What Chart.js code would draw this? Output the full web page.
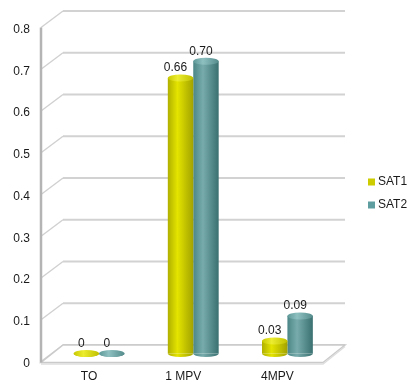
<!DOCTYPE html>
<html><head><meta charset="utf-8">
<script src="https://cdn.jsdelivr.net/npm/chart.js@4/dist/chart.umd.min.js"></script>
<style>html,body{margin:0;padding:0;background:#fff}#wrap{width:410px;height:382px;position:relative}</style>
</head><body><div id="wrap"><canvas id="c" width="410" height="382"></canvas></div>
<script>
const categories = ['TO', '1 MPV', '4MPV'];
const seriesNames = ['SAT1', 'SAT2'];
const sat1 = [0, 0.66, 0.03];
const sat2 = [0, 0.70, 0.09];
const sat1Labels = ['0', '0.66', '0.03'];
const sat2Labels = ['0', '0.70', '0.09'];
const yMin = 0, yMax = 0.8, yStep = 0.1;

const FONT = '"Liberation Sans", Arial, sans-serif';
const TEXT = '#1a1a1a';
const palettes = [
  {edgeL: '#b0b000', mid: '#e4e400', edgeR: '#a2a200', top: ['#c8c800', '#ecec30', '#c0c000'], legend: '#cccc00'},
  {edgeL: '#4c8686', mid: '#78acac', edgeR: '#3a7070', top: ['#5e9898', '#8ec0c0', '#558c8c'], legend: '#5f9ea0'}
];
const valueLabels = [sat1Labels, sat2Labels];

function grad(ctx, x, w, stops) {
  const g = ctx.createLinearGradient(x - w / 2, 0, x + w / 2, 0);
  g.addColorStop(0, stops[0]); g.addColorStop(0.38, stops[1]); g.addColorStop(1, stops[2]);
  return g;
}

const deco = {
  id: 'deco',
  beforeDatasetsDraw(chart) {
    const ctx = chart.ctx, ys = chart.scales.y;
    const fx = 41, bx = 63, bxr = 345, fxr = 323, F = 8, B = 8.5;
    ctx.save();
    for (let v = yMin; v <= yMax + 1e-9; v += yStep) {
      const yy = ys.getPixelForValue(v);
      ctx.strokeStyle = '#d2d2d2'; ctx.lineWidth = 2;
      ctx.beginPath(); ctx.moveTo(bx, yy - B); ctx.lineTo(bxr, yy - B); ctx.stroke();
      ctx.lineWidth = 1.3; ctx.strokeStyle = '#cfcfcf';
      ctx.beginPath(); ctx.moveTo(fx, yy + F); ctx.lineTo(bx, yy - B); ctx.stroke();
    }
    const y0 = ys.getPixelForValue(0);
    ctx.fillStyle = '#ffffff'; ctx.strokeStyle = '#cacaca'; ctx.lineWidth = 1.5;
    ctx.beginPath();
    ctx.moveTo(fx, y0 + F + 1); ctx.lineTo(bx, y0 - B); ctx.lineTo(bxr, y0 - B); ctx.lineTo(fxr, y0 + F + 1); ctx.closePath();
    ctx.fill(); ctx.stroke();
    ctx.strokeStyle = '#dedede'; ctx.lineWidth = 1.5;
    ctx.beginPath(); ctx.moveTo(fx, y0 + F + 2.5); ctx.lineTo(fxr, y0 + F + 2.5); ctx.lineTo(bxr, y0 - B + 1.5); ctx.stroke();
    ctx.strokeStyle = '#b4b4b4'; ctx.lineWidth = 2.5;
    ctx.beginPath(); ctx.moveTo(fx, ys.getPixelForValue(yMax) + F); ctx.lineTo(fx, y0 + F + 1); ctx.stroke();
    ctx.restore();
    chart.data.datasets.forEach((ds, i) => {
      const p = palettes[i];
      chart.getDatasetMeta(i).data.forEach(el => {
        el.options = Object.assign({}, el.options, {backgroundColor: grad(ctx, el.x, el.width, [p.edgeL, p.mid, p.edgeR])});
      });
    });
  },
  afterDatasetsDraw(chart) {
    const ctx = chart.ctx;
    ctx.save();
    chart.data.datasets.forEach((ds, i) => {
      const p = palettes[i];
      chart.getDatasetMeta(i).data.forEach((el, j) => {
        const cx = el.x, w = el.width, ry = 3.5;
        ctx.fillStyle = grad(ctx, cx, w, [p.edgeL, p.mid, p.edgeR]);
        ctx.beginPath(); ctx.ellipse(cx, el.base, w / 2, ry, 0, 0, Math.PI); ctx.fill();
        ctx.fillStyle = grad(ctx, cx, w, p.top);
        ctx.beginPath(); ctx.ellipse(cx, el.y, w / 2, ry, 0, 0, Math.PI * 2); ctx.fill();
        ctx.fillStyle = TEXT; ctx.font = '12px ' + FONT;
        ctx.textAlign = 'center'; ctx.textBaseline = 'middle';
        ctx.fillText(valueLabels[i][j], cx - 5, el.y - 10);
      });
    });
    chart.data.datasets.forEach((ds, i) => {
      const y = 182 + i * 23;
      ctx.fillStyle = palettes[i].legend;
      ctx.fillRect(368, y - 3.5, 7, 7);
      ctx.fillStyle = TEXT; ctx.font = '12px ' + FONT;
      ctx.textAlign = 'left'; ctx.textBaseline = 'middle';
      ctx.fillText(ds.label, 378, y);
    });
    ctx.restore();
  }
};

new Chart(document.getElementById('c'), {
  type: 'bar',
  data: {
    labels: categories,
    datasets: [
      {label: seriesNames[0], data: sat1, backgroundColor: palettes[0].mid, clip: false},
      {label: seriesNames[1], data: sat2, backgroundColor: palettes[1].mid, clip: false}
    ]
  },
  options: {
    responsive: false,
    animation: false,
    events: [],
    layout: {padding: {left: 0, right: 75.5, top: 19.5, bottom: 0}},
    datasets: {bar: {categoryPercentage: 0.54, barPercentage: 1.0, borderWidth: 0}},
    plugins: {legend: {display: false}, tooltip: {enabled: false}},
    scales: {
      x: {
        grid: {display: false, drawTicks: false},
        border: {display: false},
        ticks: {color: TEXT, font: {family: FONT, size: 12}, padding: 16, labelOffset: -10},
        afterFit(s) { s.height = 28.5; s.paddingLeft = 0; s.paddingRight = 0; }
      },
      y: {
        min: yMin, max: yMax,
        grid: {display: false, drawTicks: false},
        border: {display: false},
        ticks: {stepSize: yStep, color: TEXT, font: {family: FONT, size: 12}, padding: 22, labelOffset: 10,
          callback: v => (Math.abs(v) < 1e-9 ? '0' : Number(v).toFixed(1))},
        afterFit(s) { s.width = 52; s.paddingTop = 0; s.paddingBottom = 0; }
      }
    }
  },
  plugins: [deco]
});
</script>
</body></html>
